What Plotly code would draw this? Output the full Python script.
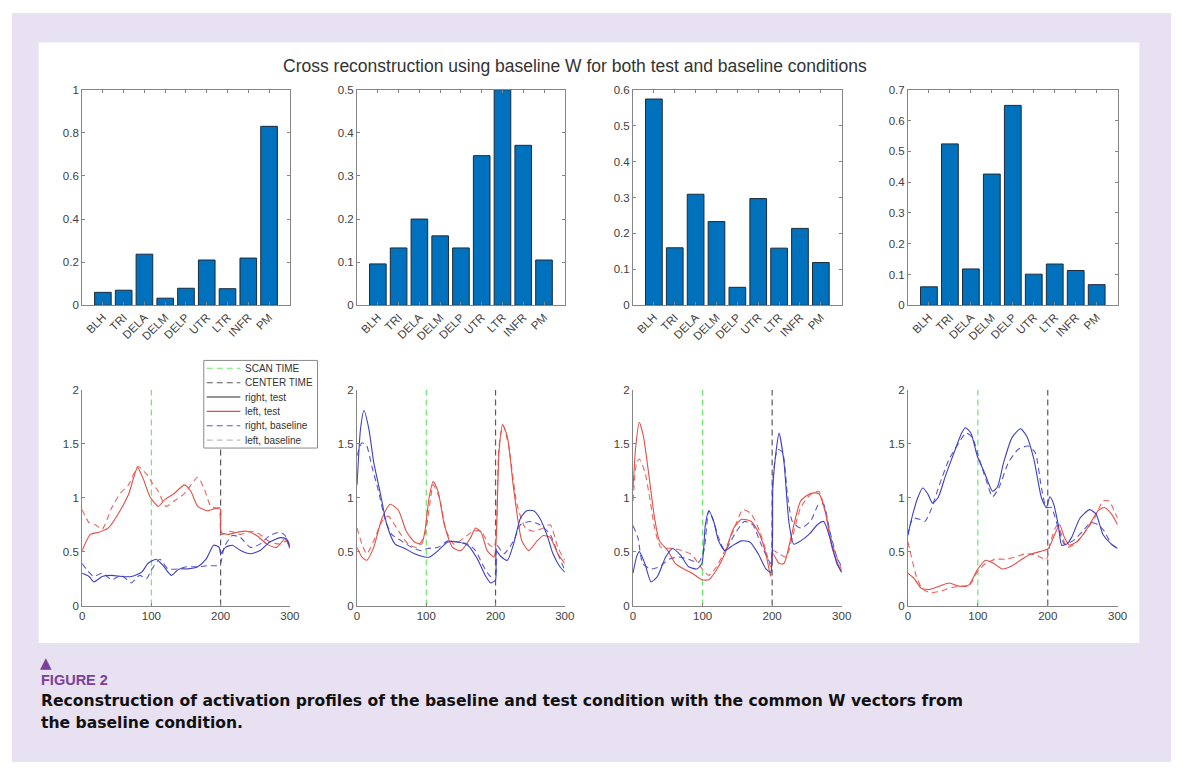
import plotly.graph_objects as go

W, H = 1186, 775

# ---------------- data ----------------
muscles = ["BLH", "TRI", "DELA", "DELM", "DELP", "UTR", "LTR", "INFR", "PM"]
w_syn1 = [0.060, 0.070, 0.237, 0.033, 0.079, 0.210, 0.077, 0.219, 0.830]
w_syn2 = [0.096, 0.133, 0.200, 0.161, 0.133, 0.347, 0.500, 0.371, 0.105]
w_syn3 = [0.574, 0.160, 0.309, 0.233, 0.050, 0.297, 0.159, 0.214, 0.119]
w_syn4 = [0.060, 0.524, 0.118, 0.426, 0.649, 0.101, 0.134, 0.113, 0.067]
bar_ymax = [1.0, 0.5, 0.6, 0.7]
bar_dtick = [0.2, 0.1, 0.1, 0.1]

scan_time = 100
center_time = 200

# activation profiles, (time, value)
p1_left_test = [(0,0.51),(12,0.66),(24,0.68),(38,0.72),(52,0.85),(67,1.03),(80,1.28),(88,1.18),(98,1.01),(110,0.92),(119,0.98),(133,1.04),(148,1.12),(157,1.06),(167,0.92),(181,0.88),(198,0.91),(200,0.88),(201,0.68),(210,0.66),(224,0.68),(238,0.69),(252,0.65),(267,0.57),(281,0.54),(293,0.62),(300,0.53)]
p1_left_base = [(0,0.89),(10,0.77),(19,0.75),(29,0.71),(43,0.91),(55,1.04),(67,1.12),(81,1.29),(93,1.22),(102,1.13),(110,1.06),(121,0.92),(133,0.97),(148,1.04),(167,1.19),(176,1.09),(186,0.92),(198,0.89),(201,0.66),(214,0.69),(229,0.66),(243,0.69),(257,0.66),(271,0.59),(286,0.57),(295,0.60),(300,0.54)]
p1_right_test = [(0,0.30),(10,0.27),(17,0.22),(29,0.27),(43,0.28),(57,0.27),(71,0.27),(86,0.31),(95,0.39),(107,0.43),(117,0.37),(129,0.28),(140,0.34),(152,0.34),(167,0.36),(179,0.43),(190,0.56),(198,0.54),(200,0.48),(207,0.54),(217,0.56),(229,0.51),(243,0.48),(257,0.51),(271,0.59),(286,0.63),(295,0.62),(300,0.54)]
p1_right_base = [(0,0.39),(7,0.33),(17,0.27),(29,0.30),(43,0.24),(57,0.28),(71,0.21),(83,0.28),(93,0.25),(100,0.33),(112,0.43),(124,0.34),(138,0.34),(152,0.36),(167,0.36),(181,0.37),(195,0.37),(200,0.39),(205,0.54),(217,0.65),(229,0.63),(243,0.54),(257,0.57),(271,0.65),(286,0.68),(293,0.65),(300,0.56)]

p2_right_test = [(0,1.12),(5,1.64),(10,1.81),(17,1.64),(24,1.33),(33,1.06),(43,0.75),(55,0.57),(69,0.53),(83,0.48),(98,0.45),(105,0.45),(117,0.51),(131,0.59),(145,0.59),(160,0.56),(174,0.43),(186,0.27),(193,0.21),(200,0.24),(201,0.51),(207,0.46),(217,0.42),(226,0.57),(236,0.81),(245,0.88),(255,0.88),(264,0.81),(274,0.66),(283,0.48),(293,0.36),(300,0.31)]
p2_right_base = [(0,1.39),(7,1.51),(14,1.48),(21,1.30),(31,1.06),(40,0.81),(50,0.66),(64,0.60),(79,0.54),(93,0.51),(102,0.53),(117,0.54),(131,0.60),(145,0.59),(160,0.57),(171,0.51),(183,0.36),(193,0.27),(200,0.30),(202,0.56),(212,0.48),(226,0.60),(236,0.75),(250,0.78),(264,0.75),(279,0.66),(290,0.48),(300,0.33)]
p2_left_test = [(0,0.54),(7,0.45),(14,0.42),(24,0.54),(36,0.81),(48,0.94),(60,0.88),(71,0.69),(83,0.59),(93,0.57),(98,0.69),(104,1.00),(110,1.15),(117,1.06),(126,0.75),(138,0.54),(150,0.51),(164,0.63),(171,0.72),(179,0.68),(188,0.51),(198,0.45),(201,0.63),(205,1.42),(210,1.68),(217,1.57),(226,1.09),(238,0.60),(248,0.51),(260,0.60),(269,0.65),(279,0.63),(290,0.48),(300,0.39)]
p2_left_base = [(0,0.72),(7,0.57),(14,0.48),(24,0.60),(36,0.78),(45,0.83),(60,0.69),(74,0.57),(86,0.54),(98,0.66),(105,0.94),(110,1.12),(119,1.00),(129,0.69),(140,0.57),(155,0.63),(167,0.69),(179,0.69),(190,0.57),(198,0.54),(201,0.69),(205,1.48),(211,1.67),(219,1.48),(231,0.94),(243,0.72),(255,0.69),(269,0.72),(279,0.75),(290,0.54),(300,0.42)]

p3_left_test = [(0,1.09),(4,1.48),(9,1.70),(15,1.57),(24,1.15),(31,0.81),(38,0.60),(50,0.51),(61,0.39),(73,0.34),(85,0.30),(99,0.24),(109,0.24),(120,0.33),(132,0.48),(144,0.71),(156,0.80),(170,0.78),(182,0.66),(191,0.48),(198,0.27),(201,0.48),(210,0.39),(217,0.39),(227,0.63),(241,0.97),(255,1.04),(267,1.04),(276,0.88),(286,0.54),(298,0.33),(300,0.31)]
p3_left_base = [(0,0.97),(5,1.32),(9,1.36),(17,1.24),(24,1.00),(31,0.72),(40,0.54),(57,0.53),(71,0.51),(85,0.47),(97,0.36),(109,0.28),(120,0.36),(132,0.51),(144,0.69),(158,0.89),(170,0.85),(182,0.69),(191,0.51),(198,0.36),(201,0.51),(210,0.48),(220,0.45),(229,0.63),(241,0.91),(255,1.03),(267,1.06),(276,0.88),(288,0.54),(300,0.33)]
p3_right_test = [(0,0.30),(5,0.45),(9,0.50),(17,0.39),(26,0.22),(35,0.27),(47,0.45),(57,0.53),(68,0.47),(80,0.36),(92,0.34),(99,0.39),(104,0.75),(109,0.88),(116,0.78),(123,0.60),(132,0.51),(144,0.56),(156,0.60),(168,0.59),(180,0.48),(191,0.34),(198,0.31),(201,1.09),(206,1.45),(210,1.60),(217,1.33),(224,0.78),(231,0.57),(241,0.60),(253,0.66),(265,0.75),(274,0.78),(283,0.63),(293,0.39),(300,0.31)]
p3_right_base = [(0,0.74),(7,0.63),(14,0.39),(26,0.34),(38,0.36),(52,0.43),(66,0.45),(80,0.43),(94,0.40),(102,0.51),(109,0.88),(116,0.78),(123,0.63),(132,0.51),(146,0.66),(160,0.78),(172,0.75),(184,0.57),(194,0.43),(198,0.39),(201,1.18),(208,1.45),(215,1.42),(222,1.03),(229,0.78),(241,0.72),(255,0.78),(267,0.94),(274,0.94),(283,0.69),(293,0.45),(300,0.36)]

p4_right_test = [(0,0.66),(7,0.85),(14,1.00),(21,1.09),(28,1.04),(35,0.95),(43,1.00),(54,1.21),(66,1.42),(76,1.59),(82,1.65),(90,1.60),(99,1.39),(109,1.24),(121,1.06),(128,1.10),(137,1.33),(149,1.56),(161,1.64),(170,1.57),(180,1.36),(191,1.00),(198,0.91),(203,1.01),(208,0.95),(215,0.75),(220,0.56),(227,0.57),(234,0.63),(246,0.81),(260,0.89),(269,0.85),(279,0.66),(291,0.57),(300,0.53)]
p4_right_base = [(0,0.65),(7,0.81),(17,0.80),(24,0.78),(33,0.89),(45,1.12),(59,1.36),(73,1.51),(83,1.60),(92,1.56),(102,1.36),(111,1.18),(121,1.01),(130,1.09),(144,1.33),(158,1.45),(172,1.48),(182,1.42),(191,1.09),(198,0.91),(205,0.91),(215,0.72),(224,0.57),(236,0.60),(250,0.69),(262,0.77),(272,0.75),(281,0.69),(291,0.57),(300,0.53)]
p4_left_test = [(0,0.30),(9,0.25),(19,0.16),(31,0.15),(45,0.18),(59,0.21),(73,0.18),(87,0.19),(99,0.33),(111,0.42),(123,0.39),(135,0.34),(149,0.37),(163,0.43),(177,0.48),(194,0.51),(201,0.53),(210,0.66),(217,0.75),(224,0.63),(231,0.56),(243,0.60),(257,0.72),(272,0.88),(281,0.91),(291,0.85),(300,0.75)]
p4_left_base = [(0,0.59),(5,0.45),(12,0.27),(21,0.15),(33,0.12),(45,0.13),(59,0.16),(73,0.18),(87,0.18),(99,0.31),(111,0.39),(125,0.43),(139,0.43),(153,0.45),(168,0.48),(182,0.47),(198,0.43),(203,0.57),(213,0.74),(220,0.66),(227,0.54),(239,0.57),(253,0.68),(267,0.81),(279,0.97),(288,0.97),(295,0.88),(300,0.81)]

title_text = "Cross reconstruction using baseline W for both test and baseline conditions"
legend_names = ["SCAN TIME", "CENTER TIME", "right, test", "left, test", "right, baseline", "left, baseline"]
caption_label = "FIGURE 2"
caption_lines = ["Reconstruction of activation profiles of the baseline and test condition with the common W vectors from",
                 "the baseline condition."]

# ---------------- styling ----------------
BAR_COLOR = "#0072BD"
BLUE = "rgb(62,62,196)"
BLUE_D = "rgb(88,88,212)"
RED = "rgb(228,78,70)"
RED_D = "rgb(234,100,94)"
GREEN = "rgb(110,230,110)"
GRAY_V = "rgb(90,90,90)"
AX = "#858585"
TXT = "#404040"
PURPLE = "#7b3f9c"
FONT = "Liberation Sans, Arial, sans-serif"
DASH = "6px,4px"
TICKFONT = dict(size=11.5, color=TXT, family=FONT)

cols = [(80, 290), (358, 568), (637, 848), (915, 1127)]
top_rows = (85, 304)
bot_rows = (390, 609)


def fx(p):
    return p / W


def fy(p):
    return 1 - p / H


fig = go.Figure()
layout = {}

bars = [w_syn1, w_syn2, w_syn3, w_syn4]
positions = list(range(1, len(muscles) + 1))
for i in range(4):
    n = i + 1
    fig.add_trace(go.Bar(x=positions, y=bars[i], width=0.8,
                         marker=dict(color=BAR_COLOR, line=dict(color="#1c2b3a", width=1)),
                         xaxis=f"x{n}", yaxis=f"y{n}", showlegend=False, hoverinfo="skip"))
    layout[f"xaxis{n}"] = dict(domain=[fx(cols[i][0]), fx(cols[i][1])], anchor=f"y{n}",
                               range=[0, 10], tickvals=positions, ticktext=muscles, tickangle=-45,
                               ticks="inside", ticklen=3, tickcolor=AX, showline=True, linecolor=AX,
                               linewidth=1, mirror="ticks", showgrid=False, zeroline=False,
                               tickfont=TICKFONT, fixedrange=True)
    layout[f"yaxis{n}"] = dict(domain=[fy(top_rows[1]), fy(top_rows[0])], anchor=f"x{n}",
                               range=[0, bar_ymax[i]], dtick=bar_dtick[i], tick0=0,
                               ticks="inside", ticklen=3, tickcolor=AX, showline=True, linecolor=AX,
                               linewidth=1, mirror="ticks", showgrid=False, zeroline=False,
                               tickfont=TICKFONT, fixedrange=True)

profiles = [
    (p1_right_test, p1_left_test, p1_right_base, p1_left_base),
    (p2_right_test, p2_left_test, p2_right_base, p2_left_base),
    (p3_right_test, p3_left_test, p3_right_base, p3_left_base),
    (p4_right_test, p4_left_test, p4_right_base, p4_left_base),
]

for i in range(4):
    n = i + 5
    xa, ya = f"x{n}", f"y{n}"
    rt, lt, rb, lb = profiles[i]
    fig.add_trace(go.Scatter(x=[scan_time, scan_time], y=[0, 2], mode="lines",
                             line=dict(color=GREEN, width=1.2, dash=DASH),
                             xaxis=xa, yaxis=ya, showlegend=False, hoverinfo="skip"))
    fig.add_trace(go.Scatter(x=[center_time, center_time], y=[0, 2], mode="lines",
                             line=dict(color=GRAY_V, width=1.2, dash=DASH),
                             xaxis=xa, yaxis=ya, showlegend=False, hoverinfo="skip"))
    for data, color, dash in [(lb, RED_D, DASH), (rb, BLUE_D, DASH), (lt, RED, "solid"), (rt, BLUE, "solid")]:
        fig.add_trace(go.Scatter(x=[p[0] for p in data], y=[p[1] for p in data], mode="lines",
                                 line=dict(color=color, width=1.1, dash=dash, shape="spline", smoothing=0.6),
                                 xaxis=xa, yaxis=ya, showlegend=False, hoverinfo="skip"))
    layout[f"xaxis{n}"] = dict(domain=[fx(cols[i][0]), fx(cols[i][1])], anchor=ya,
                               range=[0, 300], dtick=100, tick0=0,
                               ticks="inside", ticklen=3, tickcolor=AX, showline=True, linecolor=AX,
                               linewidth=1, showgrid=False, zeroline=False,
                               tickfont=TICKFONT, fixedrange=True)
    layout[f"yaxis{n}"] = dict(domain=[fy(bot_rows[1]), fy(bot_rows[0])], anchor=xa,
                               range=[0, 2], dtick=0.5, tick0=0,
                               ticks="inside", ticklen=3, tickcolor=AX, showline=True, linecolor=AX,
                               linewidth=1, showgrid=False, zeroline=False,
                               tickfont=TICKFONT, fixedrange=True)

shapes = [
    dict(type="rect", xref="paper", yref="paper", x0=fx(9), x1=fx(1181), y0=fy(768), y1=fy(7),
         fillcolor="#e7e1f1", line=dict(width=0), layer="below"),
    dict(type="rect", xref="paper", yref="paper", x0=fx(36), x1=fx(1149), y0=fy(647), y1=fy(37),
         fillcolor="white", line=dict(width=0), layer="below"),
]

annotations = [
    dict(text=title_text, x=fx(578), y=fy(61), xref="paper", yref="paper", showarrow=False,
         xanchor="center", yanchor="middle", font=dict(size=17.5, color="#333333", family=FONT)),
    dict(text="▲", x=fx(35), y=fy(667), xref="paper", yref="paper", showarrow=False,
         xanchor="left", yanchor="middle", font=dict(size=15, color=PURPLE, family="DejaVu Sans")),
    dict(text=f"<b>{caption_label}</b>", x=fx(36), y=fy(685), xref="paper", yref="paper", showarrow=False,
         xanchor="left", yanchor="middle", font=dict(size=14.5, color=PURPLE, family=FONT)),
    dict(text=f"<b>{caption_lines[0]}</b>", x=fx(36), y=fy(706), xref="paper", yref="paper", showarrow=False,
         xanchor="left", yanchor="middle", font=dict(size=15.6, color="#111111", family="DejaVu Sans")),
    dict(text=f"<b>{caption_lines[1]}</b>", x=fx(36), y=fy(728), xref="paper", yref="paper", showarrow=False,
         xanchor="left", yanchor="middle", font=dict(size=15.6, color="#111111", family="DejaVu Sans")),
]

# legend box (as drawn in the original figure legend)
LEG = dict(x0=203, x1=318, y0=360, y1=449, row0=368, drow=14.6, lx0=206, lx1=240, tx=243)
legend_styles = [
    (GREEN, DASH), (GRAY_V, DASH), ("rgb(40,40,40)", "solid"),
    (RED, "solid"), (BLUE_D, DASH), ("rgb(190,190,190)", DASH),
]
shapes.append(dict(type="rect", xref="paper", yref="paper", x0=fx(LEG["x0"]), x1=fx(LEG["x1"]),
                   y0=fy(LEG["y1"]), y1=fy(LEG["y0"]), fillcolor="white",
                   line=dict(color="#8a8a8a", width=1), layer="above"))
for k, (name, (c, d)) in enumerate(zip(legend_names, legend_styles)):
    yy = LEG["row0"] + k * LEG["drow"]
    shapes.append(dict(type="line", xref="paper", yref="paper", x0=fx(LEG["lx0"]), x1=fx(LEG["lx1"]),
                       y0=fy(yy), y1=fy(yy), line=dict(color=c, width=1.1, dash=d), layer="above"))
    annotations.append(dict(text=name, x=fx(LEG["tx"]), y=fy(yy), xref="paper", yref="paper",
                            showarrow=False, xanchor="left", yanchor="middle",
                            font=dict(size=10, color="#333333", family=FONT)))

fig.update_layout(
    width=W, height=H, autosize=False,
    margin=dict(l=0, r=0, t=0, b=0, pad=0),
    paper_bgcolor="white", plot_bgcolor="rgba(0,0,0,0)",
    shapes=shapes, annotations=annotations,
    showlegend=False,
    bargap=0.2,
    **layout,
)

fig.write_html("out.html")
